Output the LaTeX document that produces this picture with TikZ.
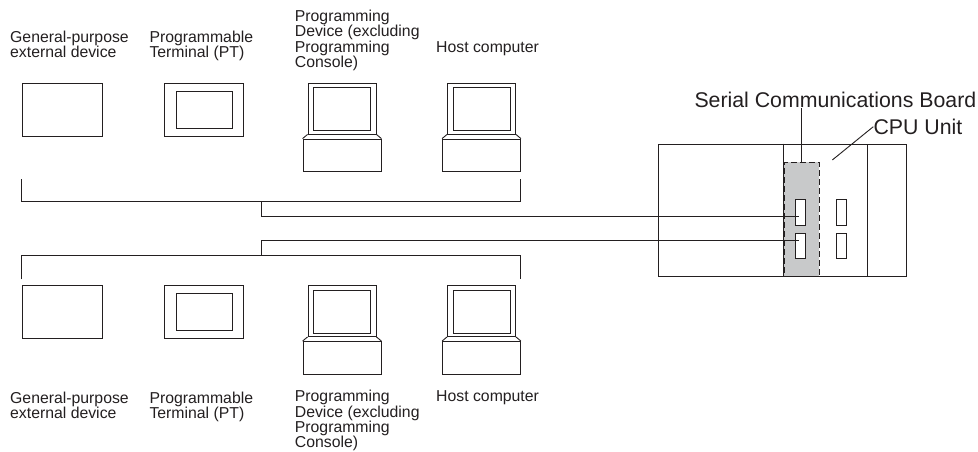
\documentclass[tikz,border=0pt]{standalone}
\usepackage{fontspec}
\setmainfont{Liberation Sans}
\usepackage{tikz}
\usetikzlibrary{positioning}
\definecolor{ink}{RGB}{35,31,32}
\definecolor{boardgray}{RGB}{200,201,202}

\begin{document}
\begin{tikzpicture}[x=1pt, y=-1pt,
  box/.style={draw=ink, line width=0.9pt, inner sep=0pt, fill=white},
  wire/.style={draw=ink, line width=0.9pt},
  lbl/.style={font=\fontsize{15.8}{15.3}\selectfont, text=ink, align=left, inner sep=0pt, anchor=base west},
  big/.style={font=\fontsize{21.3}{21}\selectfont, text=ink, inner sep=0pt, anchor=base west},
  monitor/.style={box, minimum width=68pt, minimum height=51pt},
  screen/.style={box, minimum width=57pt, minimum height=43pt},
  keybase/.style={box, minimum width=78pt, minimum height=32.5pt}]
\useasboundingbox (0,0) rectangle (978,452);

% upper row of devices (labels placed by their last line)
\node [lbl] (gpTxt) at (10,57.6) {General-purpose\\external device};
\node [lbl] (ptTxt) at (149.3,57.6) {Programmable\\Terminal (PT)};
\node [lbl] (prgTxt) at (294.7,67.4) {Programming\\Device (excluding\\Programming\\Console)};
\node [lbl] (hstTxt) at (436,52.5) {Host computer};
\node [box, minimum width=79.3pt, minimum height=53pt] (gpT) at (62.35,109.5) {};
\node [box, minimum width=78.6pt, minimum height=53pt] (ptT) at (204,109.5) {};
\node [box, minimum width=55.3pt, minimum height=37.3pt] (ptTs) at (204.3,109.7) {};
\node [monitor] (prgTm) at (342,108.5) {};
\node [screen] (prgTs) at (342,109.2) {};
\node [keybase] (prgTb) at (342,155.3) {};
\draw [wire] (prgTm.south west) -- (prgTb.north west);
\draw [wire] (prgTm.south east) -- (prgTb.north east);
\node [monitor] (hstTm) at (481.5,108.5) {};
\node [screen] (hstTs) at (481.5,109.2) {};
\node [keybase] (hstTb) at (481.5,155.3) {};
\draw [wire] (hstTm.south west) -- (hstTb.north west);
\draw [wire] (hstTm.south east) -- (hstTb.north east);

% lower row of devices
\node [box, minimum width=79.3pt, minimum height=53pt] (gpB) at (62.35,312) {};
\node [box, minimum width=78.6pt, minimum height=53pt] (ptB) at (204,312) {};
\node [box, minimum width=55.3pt, minimum height=37.3pt] (ptBs) at (204.3,312) {};
\node [monitor] (prgBm) at (342,311) {};
\node [screen] (prgBs) at (342,311.7) {};
\node [keybase] (prgBb) at (342,357.8) {};
\draw [wire] (prgBm.south west) -- (prgBb.north west);
\draw [wire] (prgBm.south east) -- (prgBb.north east);
\node [monitor] (hstBm) at (481.5,311) {};
\node [screen] (hstBs) at (481.5,311.7) {};
\node [keybase] (hstBb) at (481.5,357.8) {};
\draw [wire] (hstBm.south west) -- (hstBb.north west);
\draw [wire] (hstBm.south east) -- (hstBb.north east);
\node [lbl] (gpBtxt) at (10,418.6) {General-purpose\\external device};
\node [lbl] (ptBtxt) at (149.3,418.6) {Programmable\\Terminal (PT)};
\node [lbl] (prgBtxt) at (294.7,447.7) {Programming\\Device (excluding\\Programming\\Console)};
\node [lbl] (hstBtxt) at (436,401.8) {Host computer};

% PLC rack with board and ports
\node [draw=ink, line width=0.9pt, inner sep=0pt, minimum width=248pt, minimum height=132pt] (rack) at (782,210) {};
\node [draw=ink, line width=0.9pt, dash pattern=on 6pt off 3pt, fill=boardgray, inner sep=0pt,
  minimum width=34.7pt, minimum height=114pt] (board) at (801.65,219) {};
\draw [wire] (rack.north -| board.west) -- (rack.south -| board.west);
\draw [wire] (867.7,144) -- (867.7,276);
\node [box, minimum width=9.5pt, minimum height=25.5pt] (p1) at (800.5,212.3) {};
\node [box, minimum width=9.5pt, minimum height=25.5pt] (p2) at (800.5,245.8) {};
\node [box, minimum width=9.5pt, minimum height=25.5pt] (q1) at (841.5,212.3) {};
\node [box, minimum width=9.5pt, minimum height=25.5pt] (q2) at (841.5,245.8) {};
\node [big] (lblSCB) at (694.3,107.3) {Serial Communications Board};
\node [big] (lblCPU) at (873.3,134.3) {CPU Unit};
\coordinate (cpuEnd) at (832.3,160);
\draw [wire] (board.north) -- (board.north |- lblSCB.south);
\draw [wire] (lblCPU.west) -- (cpuEnd);

% cables
\coordinate (busT1) at (21,179);
\coordinate (busT2) at (520,179);
\coordinate (tapT) at (261.7,201);
\coordinate (endT) at (799,216.7);
\draw [wire] (busT1) -- ++(0,22) -| (busT2);
\draw [wire] (tapT) |- (endT);
\coordinate (busB1) at (21,279.3);
\coordinate (busB2) at (520,279.3);
\coordinate (tapB) at (261.7,255.7);
\coordinate (endB) at (799,240.3);
\draw [wire] (busB1) -- ++(0,-23.6) -| (busB2);
\draw [wire] (tapB) |- (endB);
\end{tikzpicture}
\end{document}
